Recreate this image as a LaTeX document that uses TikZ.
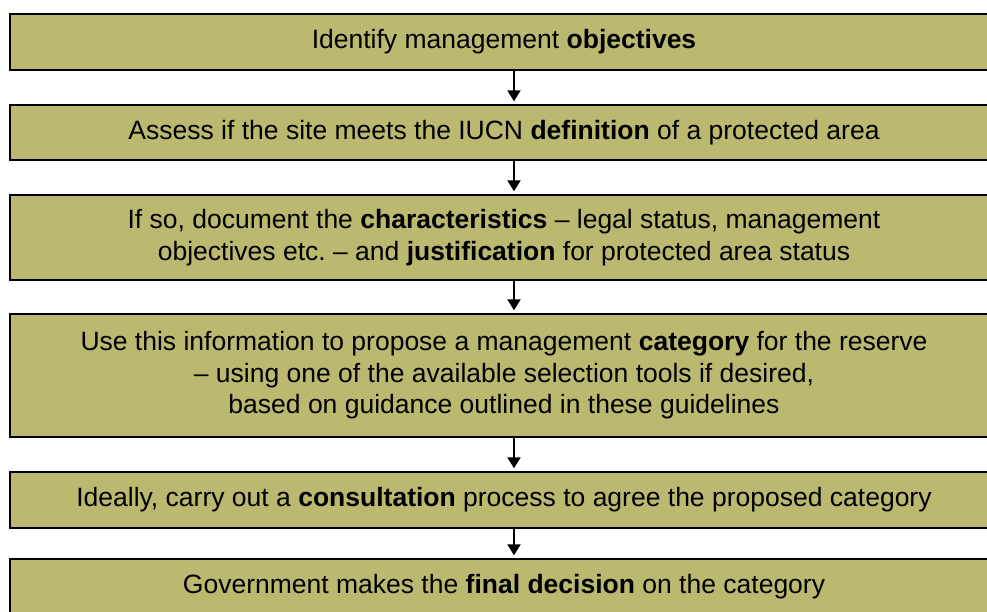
\documentclass[tikz,border=0pt]{standalone}
\usepackage{fontspec}
\setmainfont{Liberation Sans}
\usetikzlibrary{arrows.meta}
\definecolor{boxfill}{RGB}{187,184,112}
\frenchspacing
\tikzset{
  stepbox/.style={draw=black, line width=2.4pt, fill=boxfill, align=center,
    minimum width=988pt, inner sep=0pt, anchor=center,
    font=\fontsize{26.5}{31.5}\selectfont},
  flowarrow/.style={line width=2pt, -{Triangle[length=11pt,width=13pt]}, shorten >=2.5pt}
}
\begin{document}
\begin{tikzpicture}[x=1pt,y=-1pt]
\useasboundingbox (0,0) rectangle (987,611);
\clip (0,0) rectangle (987,611);
\node[stepbox, minimum height=56pt] (b1) at (504,42) {Identify management \textbf{objectives}};
\node[stepbox, minimum height=55pt] (b2) at (504,132.5) {Assess if the site meets the IUCN \textbf{definition} of a protected area};
\node[stepbox, minimum height=85pt] (b3) at (504,237.5) {If so, document the \textbf{characteristics} – legal status, management\\ objectives etc. – and \textbf{justification} for protected area status};
\node[stepbox, minimum height=123pt] (b4) at (504,375.5) {Use this information to propose a management \textbf{category} for the reserve\\ – using one of the available selection tools if desired,\\ based on guidance outlined in these guidelines};
\node[stepbox, minimum height=56pt] (b5) at (504,500) {Ideally, carry out a \textbf{consultation} process to agree the proposed category};
\node[stepbox, minimum height=56pt] (b6) at (504,587) {Government makes the \textbf{final decision} on the category};
\coordinate (ax) at (514,0);
\draw[flowarrow] (b1.south -| ax) -- (b2.north -| ax);
\draw[flowarrow] (b2.south -| ax) -- (b3.north -| ax);
\draw[flowarrow] (b3.south -| ax) -- (b4.north -| ax);
\draw[flowarrow] (b4.south -| ax) -- (b5.north -| ax);
\draw[flowarrow] (b5.south -| ax) -- (b6.north -| ax);
\end{tikzpicture}
\end{document}
